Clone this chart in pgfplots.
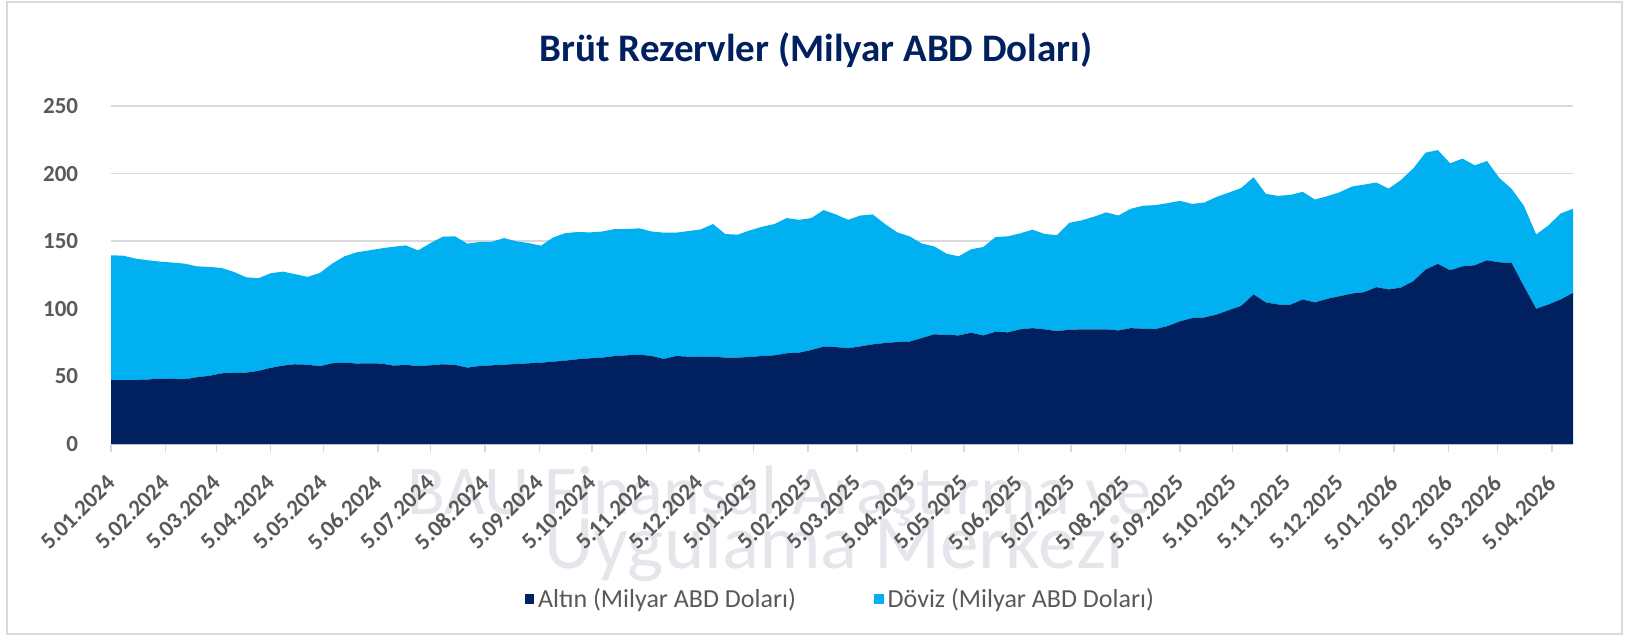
\documentclass[border=0pt]{standalone}
\usepackage{fontspec}
\setmainfont{Carlito}
\usepackage{pgfplots}
\usepackage{pgfplotstable}
\pgfplotsset{compat=1.18}
\definecolor{altin}{HTML}{002060}
\definecolor{doviz}{HTML}{00B0F0}
\definecolor{lbl}{HTML}{595959}
\definecolor{grd}{HTML}{D9D9D9}
\definecolor{wm}{RGB}{229,230,235}
\pgfplotstableread{
d gold doviz
0 47.2 92.4
7 47.2 92.1
14 47.2 89.9
21 47.7 88.2
28 48.4 86.5
35 48.2 86.0
42 47.9 85.5
49 49.4 82.0
56 50.4 80.6
63 52.3 77.9
70 52.6 74.7
77 52.8 70.5
84 54.1 68.5
91 56.3 70.0
98 58.0 69.5
105 59.0 66.6
112 58.7 64.9
119 57.5 69.0
126 59.7 73.7
133 60.2 78.6
140 59.5 82.3
147 59.7 83.5
154 59.5 85.2
161 58.0 87.9
168 58.5 88.4
175 57.7 85.5
182 58.2 90.4
189 59.0 94.3
196 58.5 95.1
203 56.5 91.7
210 57.7 91.7
217 58.2 91.4
224 58.7 93.6
231 59.2 90.7
238 59.7 88.9
245 60.2 86.5
252 60.9 91.9
259 61.7 94.3
266 62.7 94.1
273 63.4 93.1
280 63.9 93.3
287 65.1 93.9
294 65.6 93.4
301 66.1 93.4
308 65.1 92.1
315 62.9 93.4
322 65.1 91.2
329 64.6 92.9
336 64.4 94.3
343 64.6 98.1
350 63.9 91.4
357 63.9 90.9
364 64.4 93.6
371 65.1 95.6
378 65.6 97.1
385 67.1 100.0
392 67.6 98.2
399 69.5 97.6
406 72.0 101.0
413 71.7 98.1
420 70.8 95.0
427 72.2 96.8
434 73.7 96.1
441 74.7 88.0
448 75.4 81.1
455 75.7 77.9
462 78.4 69.8
469 81.1 65.1
476 80.8 60.0
483 80.3 58.5
490 82.3 61.7
497 80.3 65.4
504 83.0 70.1
511 82.6 71.0
518 84.8 71.0
525 85.7 72.8
532 84.8 70.5
539 83.5 71.0
546 84.5 79.1
553 84.8 80.6
560 84.8 83.3
567 84.8 86.5
574 84.0 85.0
581 85.7 88.3
588 85.3 90.9
595 85.0 91.7
602 87.2 90.9
609 90.7 89.2
616 93.1 84.5
623 93.6 85.0
630 95.8 87.0
637 99.0 87.0
644 102.2 87.2
651 110.6 86.7
658 104.7 80.3
665 103.2 80.3
672 103.0 81.3
679 106.9 79.6
686 104.7 76.1
693 107.4 75.9
700 109.3 76.9
707 111.3 79.1
714 112.3 79.6
721 116.0 77.4
728 114.3 74.6
735 115.7 79.6
742 120.4 83.5
749 129.0 86.5
756 133.2 84.2
763 128.5 79.1
770 131.4 79.7
777 132.2 73.9
784 135.9 73.4
791 134.4 62.4
798 133.9 54.8
805 116.7 59.5
812 100.0 55.0
819 103.2 58.5
826 106.9 63.6
833 111.8 62.2
}\data
\begin{document}
\begin{tikzpicture}[x=1pt,y=1pt]
\useasboundingbox (0pt,0pt) rectangle (812.5pt,319.5pt);
\fill[white] (0pt,0pt) rectangle (812.5pt,319.5pt);
\draw[grd, line width=0.75pt] (3.4pt,2.5pt) rectangle (811pt,318.5pt);
\node[text=wm, font=\fontsize{35}{35}\selectfont, anchor=base west, inner sep=0pt] at (203.5pt,62.5pt) {BAU Finansal Araştırma ve};
\node[text=wm, font=\fontsize{38.5}{38.5}\selectfont, anchor=base west, inner sep=0pt] at (272pt,35.5pt) {Uygulama Merkezi};
\node[text=altin, font=\fontsize{19.5}{19.5}\selectfont\bfseries, anchor=base, inner sep=0pt] at (408pt,288.5pt) {Brüt Rezervler (Milyar ABD Doları)};
\begin{axis}[
  at={(55.5pt,97.5pt)}, anchor=south west,
  scale only axis, width=731pt, height=169pt,
  xmin=0, xmax=833, ymin=0, ymax=250,
  stack plots=y,
  axis x line*=bottom, axis y line*=left,
  x axis line style={-, color=grd, line width=0.75pt},
  y axis line style={draw=none},
  ytick={0,50,100,150,200,250},
  ytick style={draw=none},
  xtick style={color=grd, line width=0.75pt},
  tick align=outside, major tick length=4pt,
  ymajorgrids, grid style={color=grd, line width=0.75pt},
  /pgf/number format/assume math mode=true,
  xtick={0,31,60,91,121,152,182,213,244,274,305,335,366,397,425,456,486,517,547,578,609,639,670,700,731,762,790,821},
  xticklabels={5.01.2024,5.02.2024,5.03.2024,5.04.2024,5.05.2024,5.06.2024,5.07.2024,5.08.2024,5.09.2024,5.10.2024,5.11.2024,5.12.2024,5.01.2025,5.02.2025,5.03.2025,5.04.2025,5.05.2025,5.06.2025,5.07.2025,5.08.2025,5.09.2025,5.10.2025,5.11.2025,5.12.2025,5.01.2026,5.02.2026,5.03.2026,5.04.2026},
  xticklabel style={yshift=-13.5pt, rotate=45, anchor=east, inner sep=0pt, font=\fontsize{11.5}{11.5}\selectfont\bfseries, text=lbl},
  yticklabel style={xshift=-12.25pt, anchor=east, inner sep=0pt, font=\fontsize{11.5}{11.5}\selectfont\bfseries, text=lbl},
  legend style={at={(0.4995,-0.4586)}, anchor=center, draw=none, fill=none, legend columns=2,
    font=\fontsize{13}{13}\selectfont, text=lbl,
    /tikz/every even column/.append style={column sep=37pt}},
  legend image code/.code={\path[#1] (0pt,-2.4pt) rectangle (4.8pt,2.4pt);},
]
\addplot[fill=altin, draw=none] table[x=d, y=gold] {\data} \closedcycle;
\addplot[fill=doviz, draw=none] table[x=d, y=doviz] {\data} \closedcycle;
\legend{Altın (Milyar ABD Doları), Döviz (Milyar ABD Doları)}
\end{axis}
\end{tikzpicture}
\end{document}
